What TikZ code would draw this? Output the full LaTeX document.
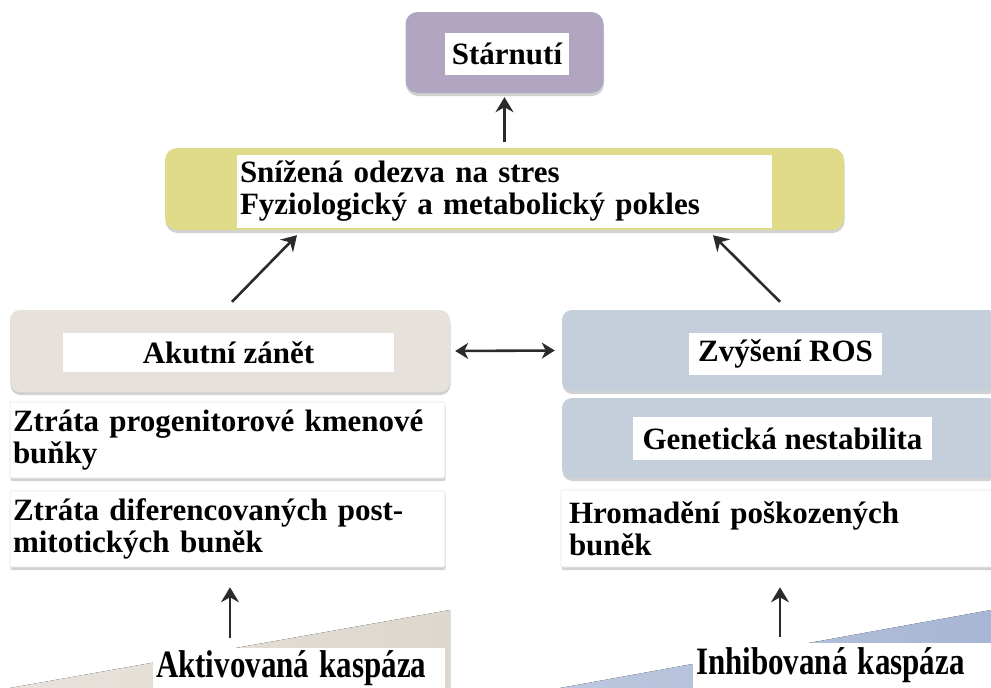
\documentclass[tikz,border=0pt]{standalone}
\usepackage{fontspec}
\setmainfont{Liberation Serif}
\usetikzlibrary{arrows.meta,shadows}
\definecolor{agpurple}{HTML}{B1A5C1}
\definecolor{agyellow}{HTML}{DFDB89}
\definecolor{agbeige}{HTML}{E7E1DB}
\definecolor{agblue}{HTML}{C5CEDB}
\definecolor{wgbeige}{HTML}{DDD7CD}
\definecolor{wgblue}{HTML}{A7B6D4}
\definecolor{agink}{HTML}{2B2B2B}
\tikzset{
  shd/.style = {drop shadow={shadow xshift=0.5pt, shadow yshift=-3pt,
                 opacity=0.18, fill=black}},
  bx/.style  = {rectangle, rounded corners=10pt, draw=none, shd},
  wl/.style  = {rectangle, fill=white, inner sep=0pt,
                font=\fontsize{31}{37}\selectfont\bfseries},
  wt/.style  = {rectangle, fill=white, align=left, inner xsep=3pt,
                inner ysep=0pt, font=\fontsize{31}{32}\selectfont\bfseries},
  wb/.style  = {wt, shd, draw=black!10, line width=0.6pt, rounded corners=2pt},
  ar/.style  = {-{Stealth[length=15pt,width=18pt,inset=5pt]},
                draw=agink, line width=2.6pt},
  dar/.style = {{Stealth[length=13pt,width=16pt,inset=4pt]}-{Stealth[length=13pt,width=16pt,inset=4pt]},
                draw=agink, line width=2.6pt},
}

\begin{document}
\begin{tikzpicture}[x=1pt,y=-1pt]
  \useasboundingbox (0,0) rectangle (991,688);

  % --- caspase wedges
  \fill[left color=wgbeige!70, right color=wgbeige]
    (10,688) -- (450,610) -- (450,688) -- cycle;
  \fill[left color=wgblue!75, right color=wgblue]
    (560,688) -- (991,610) -- (991,688) -- cycle;

  % --- top
  \node[bx, fill=agpurple, rounded corners=12pt, minimum width=198,
        minimum height=81] (starn) at (504.5,52.5) {};
  \node[wl, minimum width=124, minimum height=42] (starnL) at (507,54) {Stárnutí};

  \node[bx, fill=agyellow, rounded corners=12pt, minimum width=679,
        minimum height=82] (stres) at (504.5,189) {};
  \node[wt, text width=529, minimum height=73] (stresL) at (504.5,191)
    {Snížená odezva na stres\\Fyziologický a metabolický pokles};

  % --- left column
  \node[bx, fill=agbeige, minimum width=440, minimum height=82] (zanet) at (230,351) {};
  \node[wl, minimum width=331, minimum height=39] (zanetL) at (228.5,352.5) {Akutní zánět};
  \node[wb, text width=429, minimum height=76] (ztr1) at (227.5,440)
    {Ztráta progenitorové kmenové\\buňky};
  \node[wb, text width=429, minimum height=76] (ztr2) at (227.5,529)
    {Ztráta diferencovaných post-\\mitotických buněk};

  % --- right column
  \node[bx, fill=agblue, minimum width=436, minimum height=81] (ros) at (780,350.5) {};
  \node[wl, minimum width=193, minimum height=42] (rosL) at (785.5,354) {Zvýšení ROS};
  \node[bx, fill=agblue, minimum width=436, minimum height=80] (nest) at (780,438) {};
  \node[wl, minimum width=299, minimum height=43] (nestL) at (782.5,438.5) {Genetická nestabilita};
  \node[wb, inner xsep=8pt, text width=422, minimum height=77] (hrom) at (780,528.5)
    {Hromadění poškozených\\buněk};

  % --- caspase labels
  \node[wt, text width=286, minimum height=40] (akt) at (299,668)
    {\scalebox{1}[1.25]{Aktivovaná kaspáza}};
  \node[wt, text width=292, minimum height=45] (inh) at (842,665.5)
    {\scalebox{1}[1.25]{Inhibovaná kaspáza}};

  % --- arrows
  \draw[ar] ([yshift=6pt]stres.north) -- ([yshift=-4pt]starn.south);
  \draw[ar] ([xshift=2pt,yshift=8pt]zanet.north) -- ([xshift=-207.5pt,yshift=-5pt]stres.south);
  \draw[ar] ([yshift=8pt]ros.north) -- ([xshift=208.5pt,yshift=-5pt]stres.south);
  \draw[dar] ([xshift=5pt]zanet.east) -- ([xshift=-7pt]ros.west);
  \draw[ar] ([xshift=-69pt,yshift=10pt]akt.north) -- ([xshift=2.5pt,yshift=-20pt]ztr2.south);
  \draw[ar] ([xshift=-62pt,yshift=6pt]inh.north) -- ([yshift=-20pt]hrom.south);
\end{tikzpicture}
\end{document}
